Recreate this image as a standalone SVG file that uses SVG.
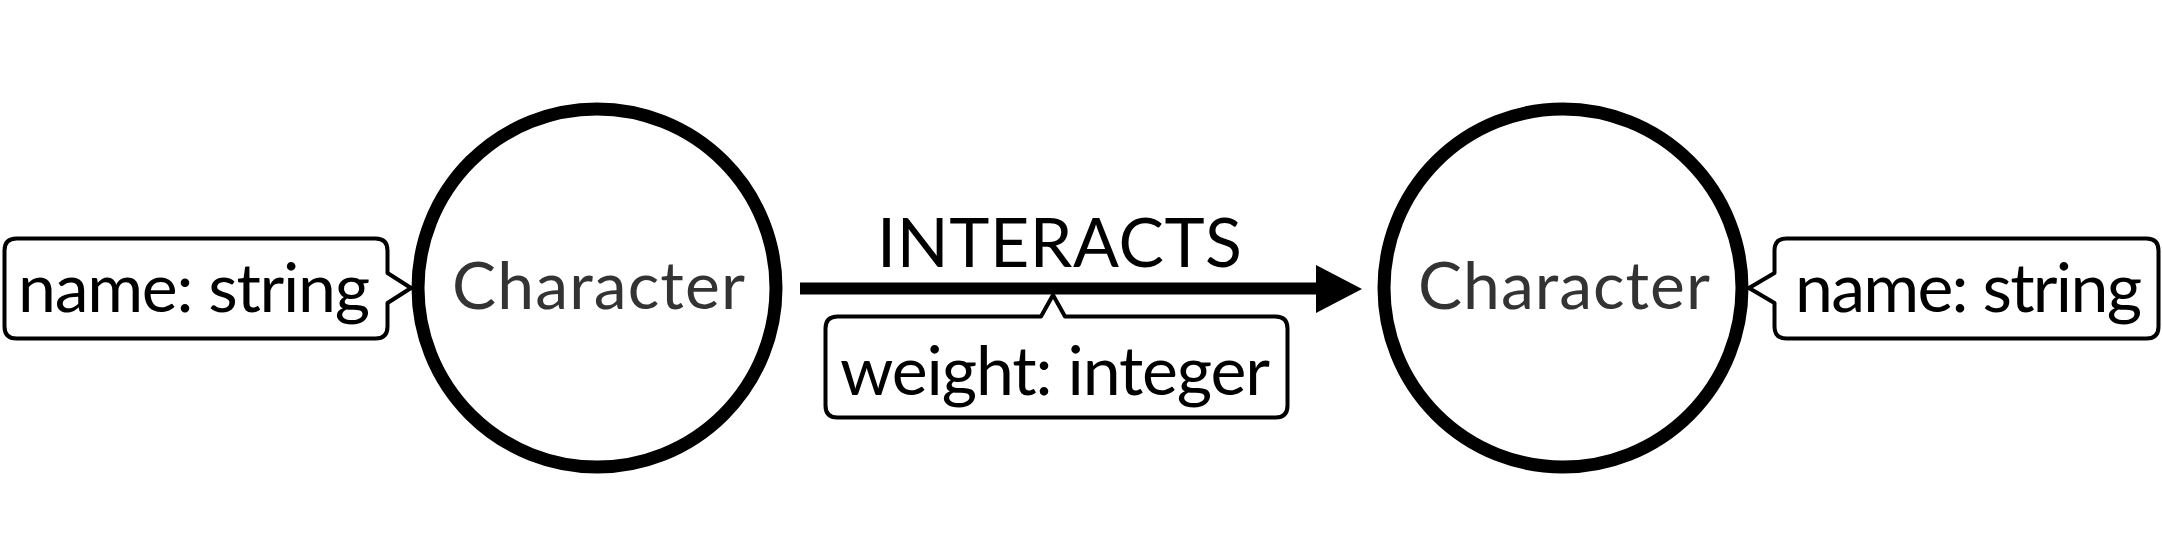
<svg xmlns="http://www.w3.org/2000/svg" width="2162" height="560" viewBox="0 0 2162 560">
  <style>
    .node { fill: #ffffff; stroke: #000000; stroke-width: 13; }
    .nodetext { font-family: Lato, "Liberation Sans", sans-serif; font-size: 66px; fill: #333333; }
    .prop { fill: #ffffff; stroke: #000000; stroke-width: 4; stroke-linejoin: round; }
    .proptext { font-family: Lato, "Liberation Sans", sans-serif; font-size: 68px; fill: #000000; }
    .rel { stroke: #000000; stroke-width: 12; fill: none; }
    .head { fill: #000000; }
  </style>
  <rect x="0" y="0" width="2162" height="560" fill="#ffffff"/>

  <g id="connectors">
    <line class="rel" x1="800" y1="288.5" x2="1320" y2="288.5"/>
    <polygon class="head" points="1316,265 1362,289 1316,313"/>
    <text class="proptext" x="877" y="267" textLength="365">INTERACTS</text>
    <g id="rel-property">
      <path class="prop" d="M 837.5 316.5 L 1041 316.5 L 1053 295 L 1065 316.5 L 1275.5 316.5 Q 1287.5 316.5 1287.5 328.5 L 1287.5 405.5 Q 1287.5 417.5 1275.5 417.5 L 837.5 417.5 Q 825.5 417.5 825.5 405.5 L 825.5 328.5 Q 825.5 316.5 837.5 316.5 Z"/>
      <text class="proptext" x="840" y="395" textLength="430">weight: integer</text>
    </g>
  </g>

  <g id="node-left">
    <circle class="node" cx="597" cy="288" r="179"/>
    <text class="nodetext" x="452" y="309" textLength="293">Character</text>
  </g>

  <g id="prop-left">
    <path class="prop" d="M 16.5 238.5 L 375.5 238.5 Q 387.5 238.5 387.5 250.5 L 387.5 273 L 411 288 L 387.5 303 L 387.5 326.5 Q 387.5 338.5 375.5 338.5 L 16.5 338.5 Q 4.5 338.5 4.5 326.5 L 4.5 250.5 Q 4.5 238.5 16.5 238.5 Z"/>
    <text class="proptext" x="18" y="312" textLength="352">name: string</text>
  </g>

  <g id="node-right">
    <circle class="node" cx="1563" cy="288" r="179"/>
    <text class="nodetext" x="1418" y="309" textLength="292">Character</text>
  </g>

  <g id="prop-right">
    <path class="prop" d="M 1786.5 238.5 L 2146.5 238.5 Q 2158.5 238.5 2158.5 250.5 L 2158.5 326.5 Q 2158.5 338.5 2146.5 338.5 L 1786.5 338.5 Q 1774.5 338.5 1774.5 326.5 L 1774.5 303 L 1749 288 L 1774.5 273 L 1774.5 250.5 Q 1774.5 238.5 1786.5 238.5 Z"/>
    <text class="proptext" x="1795" y="312" textLength="347">name: string</text>
  </g>
</svg>
